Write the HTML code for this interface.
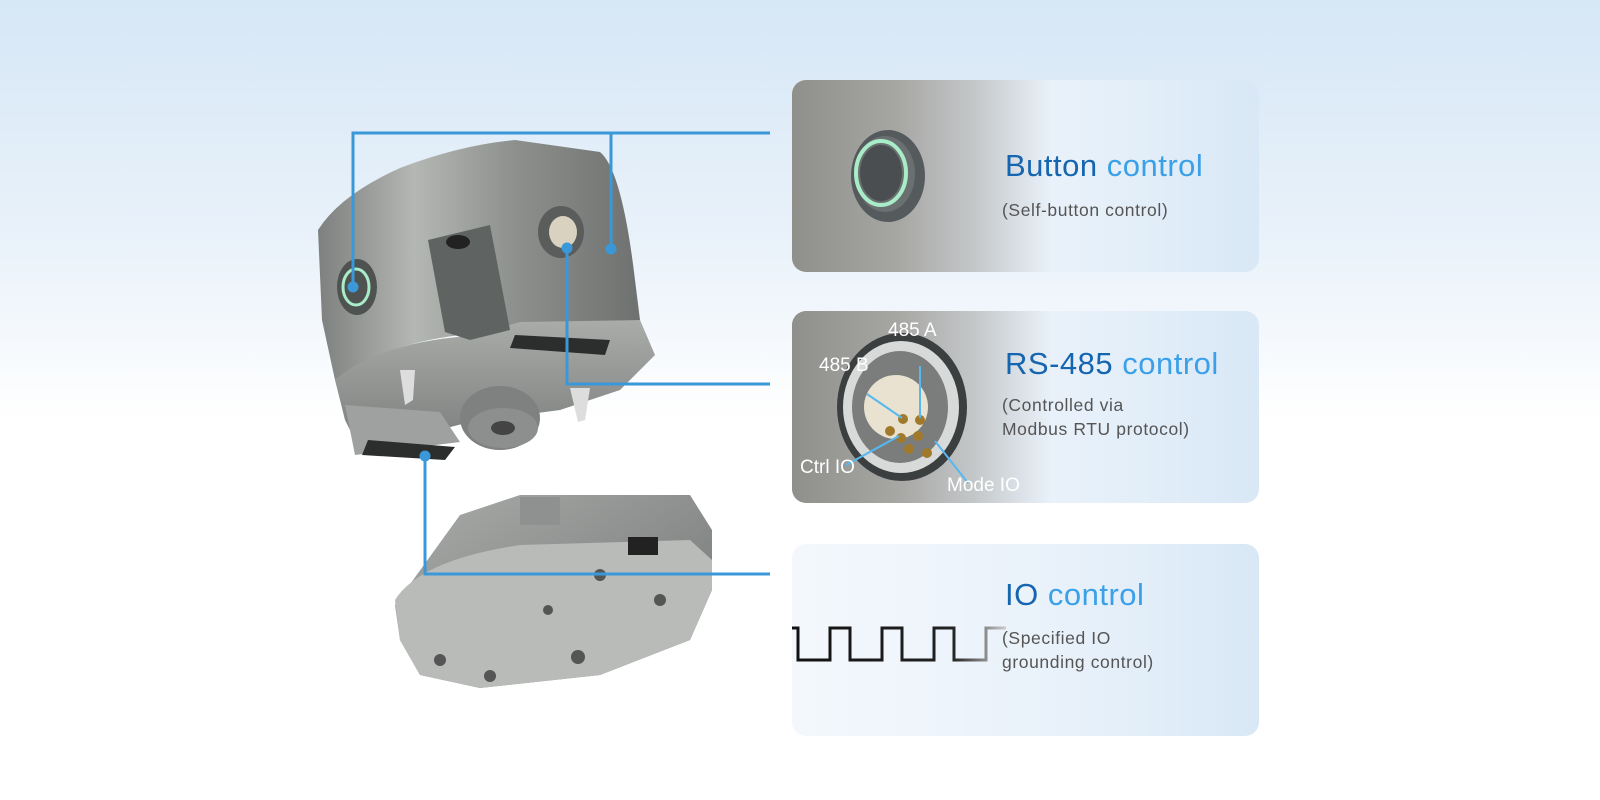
<!DOCTYPE html>
<html><head><meta charset="utf-8"><style>
*{margin:0;padding:0}
body{width:1600px;height:800px;overflow:hidden;background:linear-gradient(#d6e7f6 0,#eaf2fa 250px,#ffffff 420px,#ffffff 800px);font-family:"Liberation Sans",sans-serif;position:relative}
.card{position:absolute;left:792px;width:467px;height:192px;border-radius:14px;overflow:hidden;background:linear-gradient(90deg,#f4f8fc 0%,#e8f1fa 60%,#d9e8f6 100%)}
.img{position:absolute;left:0;top:0;bottom:0;width:260px;background:linear-gradient(90deg,#8f8f8c 0%,#a6a6a3 40%,#c4c7c9 70%,rgba(230,238,246,0) 100%)}
.t{position:absolute;left:213px;font-size:31px;color:#3aa0e8;white-space:nowrap;letter-spacing:0.5px}
.t b{color:#1565b0;font-weight:normal}
.s{position:absolute;left:210px;font-size:17.5px;color:#555;line-height:24px;white-space:nowrap;letter-spacing:0.6px}
</style></head><body>
<div class="card" style="top:80px"><div class="img"></div>
<svg style="position:absolute;left:0;top:0" width="260" height="192"><ellipse cx="96" cy="96" rx="37" ry="46" fill="#555a5c"/><ellipse cx="93" cy="94" rx="30" ry="38" fill="#6a6f70"/><ellipse cx="89" cy="93" rx="25" ry="32" fill="none" stroke="#a8ecc8" stroke-width="4"/><ellipse cx="89" cy="93" rx="21" ry="28" fill="#4a4e50"/></svg>
<div class="t" style="top:68px"><b>Button</b> control</div>
<div class="s" style="top:118px">(Self-button control)</div></div>
<div class="card" style="top:311px"><div class="img"></div>
<svg style="position:absolute;left:0;top:0" width="260" height="192" font-family="Liberation Sans" font-size="19" fill="#fff">
<ellipse cx="110" cy="96" rx="65" ry="74" fill="#3c3f40"/><ellipse cx="109" cy="96" rx="58" ry="66" fill="#d8d9d9"/><ellipse cx="108" cy="96" rx="48" ry="56" fill="#7b7d7c"/><ellipse cx="104" cy="96" rx="32" ry="32" fill="#e9e2d0"/>
<g fill="#a07a2a"><circle cx="111" cy="108" r="5"/><circle cx="128" cy="109" r="5"/><circle cx="126" cy="125" r="5"/><circle cx="109" cy="127" r="5"/><circle cx="98" cy="120" r="5"/><circle cx="117" cy="138" r="5"/><circle cx="135" cy="142" r="5"/></g>
<g stroke="#55b8f0" stroke-width="2"><line x1="128" y1="55" x2="128" y2="107"/><line x1="75" y1="83" x2="110" y2="107"/><line x1="54" y1="154" x2="107" y2="125"/><line x1="143" y1="130" x2="176" y2="172"/></g>
<text x="96" y="25">485 A</text><text x="27" y="60">485 B</text><text x="8" y="162">Ctrl IO</text><text x="155" y="180">Mode IO</text></svg>
<div class="t" style="top:35px"><b>RS-485</b> control</div>
<div class="s" style="top:82px">(Controlled via<br>Modbus RTU protocol)</div></div>
<div class="card" style="top:544px">
<svg style="position:absolute;left:0;top:0" width="260" height="192"><defs><linearGradient id="w"><stop offset="0" stop-color="#111"/><stop offset=".75" stop-color="#222"/><stop offset="1" stop-color="#ccc"/></linearGradient></defs>
<path d="M0 84 H6 V116 H38 V84 H58 V116 H90 V84 H110 V116 H142 V84 H162 V116 H194 V84 H214" fill="none" stroke="url(#w)" stroke-width="3"/></svg>
<div class="t" style="top:33px"><b>IO</b> control</div>
<div class="s" style="top:82px">(Specified IO<br>grounding control)</div></div>

<svg style="position:absolute;left:0;top:0" width="790" height="800">
<defs>
<linearGradient id="g1" x1="0" x2="1"><stop offset="0" stop-color="#7d807e"/><stop offset=".3" stop-color="#b4b7b3"/><stop offset=".6" stop-color="#8e918e"/><stop offset="1" stop-color="#6e716f"/></linearGradient>
<linearGradient id="g2" x1="0" y1="0" x2="0" y2="1"><stop offset="0" stop-color="#a9aca9"/><stop offset="1" stop-color="#7a7d7b"/></linearGradient>
<linearGradient id="g3" x1="0" y1="0" x2="1" y2="1"><stop offset="0" stop-color="#a9aca9"/><stop offset="1" stop-color="#707372"/></linearGradient>
</defs>
<path d="M318 230 Q340 195 400 168 Q460 145 515 140 L600 152 Q622 170 635 280 L640 320 L600 330 Q520 322 460 335 Q380 345 335 380 L322 320 Z" fill="url(#g1)"/>
<path d="M335 380 Q380 342 470 336 L520 322 L640 320 L655 355 L620 390 L560 410 L470 422 Q400 440 360 450 L345 420 Z" fill="url(#g2)"/>
<path d="M428 240 L490 225 L510 330 L470 340 L445 332 Z" fill="#5f6361"/>
<ellipse cx="458" cy="242" rx="12" ry="7" fill="#222"/>
<ellipse cx="357" cy="287" rx="20" ry="28" fill="#4e5251"/><ellipse cx="356" cy="287" rx="13" ry="18" fill="none" stroke="#a8ecc8" stroke-width="3"/>
<ellipse cx="561" cy="232" rx="23" ry="26" fill="#5a5d5c"/><ellipse cx="563" cy="232" rx="14" ry="16" fill="#d9d2c0"/>
<path d="M515 335 L610 340 L605 355 L510 348 Z" fill="#2c2e2e"/>
<path d="M345 405 L440 412 L460 442 L355 455 Z" fill="#9ea19f"/>
<path d="M368 440 L455 447 L445 460 L362 455 Z" fill="#2c2e2e"/>
<ellipse cx="500" cy="418" rx="40" ry="32" fill="#7e8180"/><ellipse cx="503" cy="428" rx="35" ry="20" fill="#8c8f8d"/><ellipse cx="503" cy="428" rx="12" ry="7" fill="#444"/>
<path d="M400 370 L415 370 L413 400 L405 405 Z" fill="#ddd"/><path d="M570 388 L590 388 L585 420 L578 422 Z" fill="#ddd"/>
<path d="M460 515 L520 495 L690 495 L712 530 L712 590 L690 640 L600 675 L480 688 L420 675 L400 640 L395 605 Z" fill="url(#g3)"/>
<path d="M395 600 Q420 560 520 545 L690 540 L712 560 L712 590 L690 640 L600 675 L480 688 L420 675 L400 640 Z" fill="#b8bbb8"/>
<path d="M520 497 L560 497 L560 525 L520 525 Z" fill="#8e918f"/>
<rect x="628" y="537" width="30" height="18" fill="#222"/>
<g fill="#555"><circle cx="600" cy="575" r="6"/><circle cx="660" cy="600" r="6"/><circle cx="578" cy="657" r="7"/><circle cx="490" cy="676" r="6"/><circle cx="440" cy="660" r="6"/><circle cx="548" cy="610" r="5"/></g>
<g stroke="#3a98d8" stroke-width="3" fill="none">
<path d="M353 287 V133 H770"/><path d="M611 249 V133"/><path d="M567 248 V384 H770"/><path d="M425 456 V574 H770"/></g>
<g fill="#3a98d8"><circle cx="353" cy="287" r="5.5"/><circle cx="611" cy="249" r="5.5"/><circle cx="567" cy="248" r="5.5"/><circle cx="425" cy="456" r="5.5"/></g>
</svg>
</body></html>
